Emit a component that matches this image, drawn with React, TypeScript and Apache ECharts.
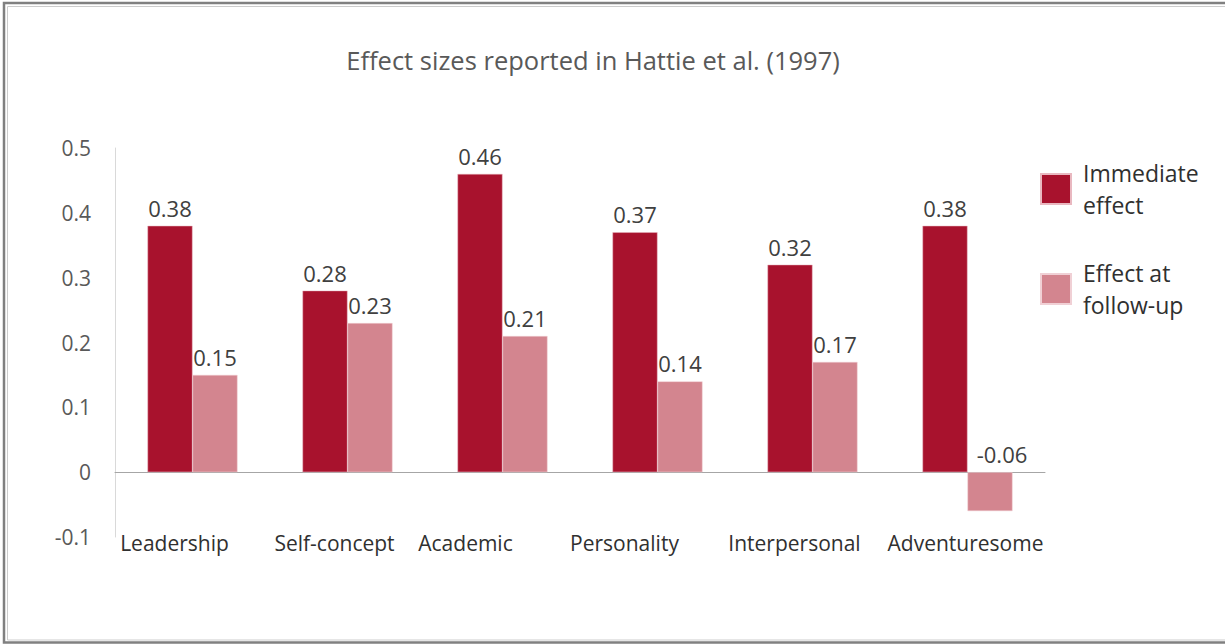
import React, { useEffect, useRef } from "react";
import * as echarts from "echarts";

const categories = ["Leadership", "Self-concept", "Academic", "Personality", "Interpersonal", "Adventuresome"];
const immediateEffect = [0.38, 0.28, 0.46, 0.37, 0.32, 0.38];
const followUpEffect = [0.15, 0.23, 0.21, 0.14, 0.17, -0.06];
const seriesNames = ["Immediate effect", "Effect at follow-up"];
const legendLabels: Record<string, string> = {
  "Immediate effect": "Immediate\neffect",
  "Effect at follow-up": "Effect at\nfollow-up",
};
const yTicks = { min: -0.1, max: 0.5, interval: 0.1 };

// label shifts (px, leftward) to mimic the original's label placement
const labelShift = [36, 26, 74, 66, 36, 4];

const FONT = "'Open Sans', sans-serif";
const DARK = "#A8122D";
const LIGHT = "#D3858F";

export default function App() {
  const ref = useRef<HTMLDivElement>(null);
  useEffect(() => {
    if (!ref.current) return;
    const chart = echarts.init(ref.current, null, { renderer: "svg" });
    const rich: Record<string, any> = {};
    categories.forEach((_, i) => {
      rich["c" + i] = {
        padding: [0, labelShift[i], 0, 0],
        fontSize: 21,
        color: "#303030",
        fontFamily: FONT,
      };
    });
    const dataLabel = {
      show: true,
      position: "top",
      distance: 7,
      fontSize: 22,
      color: "#404040",
      fontFamily: FONT,
      formatter: (p: any) => p.value.toFixed(2),
    };
    chart.setOption({
      animation: false,
      backgroundColor: "#ffffff",
      textStyle: { fontFamily: FONT },
      title: {
        text: "Effect sizes reported in Hattie et al. (1997)",
        left: 588,
        textAlign: "center",
        top: 42,
        textStyle: { fontFamily: FONT, fontSize: 25.5, fontWeight: "normal", color: "#595959" },
      },
      legend: {
        data: seriesNames,
        orient: "vertical",
        left: 1035,
        top: 151,
        itemWidth: 30,
        itemHeight: 30,
        itemGap: 34,
        icon: "rect",
        formatter: (name: string) => legendLabels[name] || name,
        textStyle: { fontFamily: FONT, fontSize: 23, lineHeight: 32, color: "#303030", padding: [2, 0, 0, 7] },
      },
      graphic: [
        {
          type: "rect",
          shape: { x: 4, y: 3, width: 1260, height: 639.5 },
          style: { fill: "none", stroke: "#808080", lineWidth: 2.5 },
          silent: true,
        },
        {
          type: "rect",
          shape: { x: 7.5, y: 6.5, width: 1260, height: 633.5 },
          style: { fill: "none", stroke: "#cccccc", lineWidth: 1 },
          silent: true,
        },
      ],
      grid: { left: 115, right: 180, top: 148, bottom: 107, containLabel: false },
      xAxis: [
        {
          type: "category",
          data: categories,
          position: "bottom",
          axisLine: { show: false, onZero: false },
          axisTick: { show: false },
          axisLabel: {
            margin: -5,
            interval: 0,
            formatter: (v: string) => {
              const i = categories.indexOf(v);
              return "{c" + i + "|" + v + "}";
            },
            rich,
          },
        },
        {
          type: "category",
          data: categories,
          position: "bottom",
          axisLine: { show: true, onZero: true, lineStyle: { color: "#a6a6a6", width: 1 } },
          axisTick: { show: false },
          axisLabel: { show: false },
        },
      ],
      yAxis: {
        type: "value",
        min: yTicks.min,
        max: yTicks.max,
        interval: yTicks.interval,
        axisLine: { show: true, lineStyle: { color: "#d9d9d9", width: 1 } },
        axisTick: { show: false },
        splitLine: { show: false },
        axisLabel: {
          margin: 24,
          fontSize: 21,
          color: "#595959",
          fontFamily: FONT,
          formatter: (v: number) => String(Math.round(v * 10) / 10),
        },
      },
      series: [
        {
          name: seriesNames[0],
          type: "bar",
          data: immediateEffect,
          barWidth: 45,
          barGap: "0%",
          itemStyle: { color: DARK, borderColor: "#e9b8c0", borderWidth: 0.5 },
          label: dataLabel,
        },
        {
          name: seriesNames[1],
          type: "bar",
          data: followUpEffect.map((v) => (v < 0 ? { value: v, label: { offset: [12, 0] } } : v)),
          barWidth: 45,
          barGap: "0%",
          itemStyle: { color: LIGHT, borderColor: "#f0d0d5", borderWidth: 0.5 },
          label: dataLabel,
        },
      ],
    });
    return () => chart.dispose();
  }, []);
  return (
    <div
      ref={ref}
      style={{ position: "absolute", left: 0, top: 0, width: 1225, height: 644 }}
    />
  );
}
